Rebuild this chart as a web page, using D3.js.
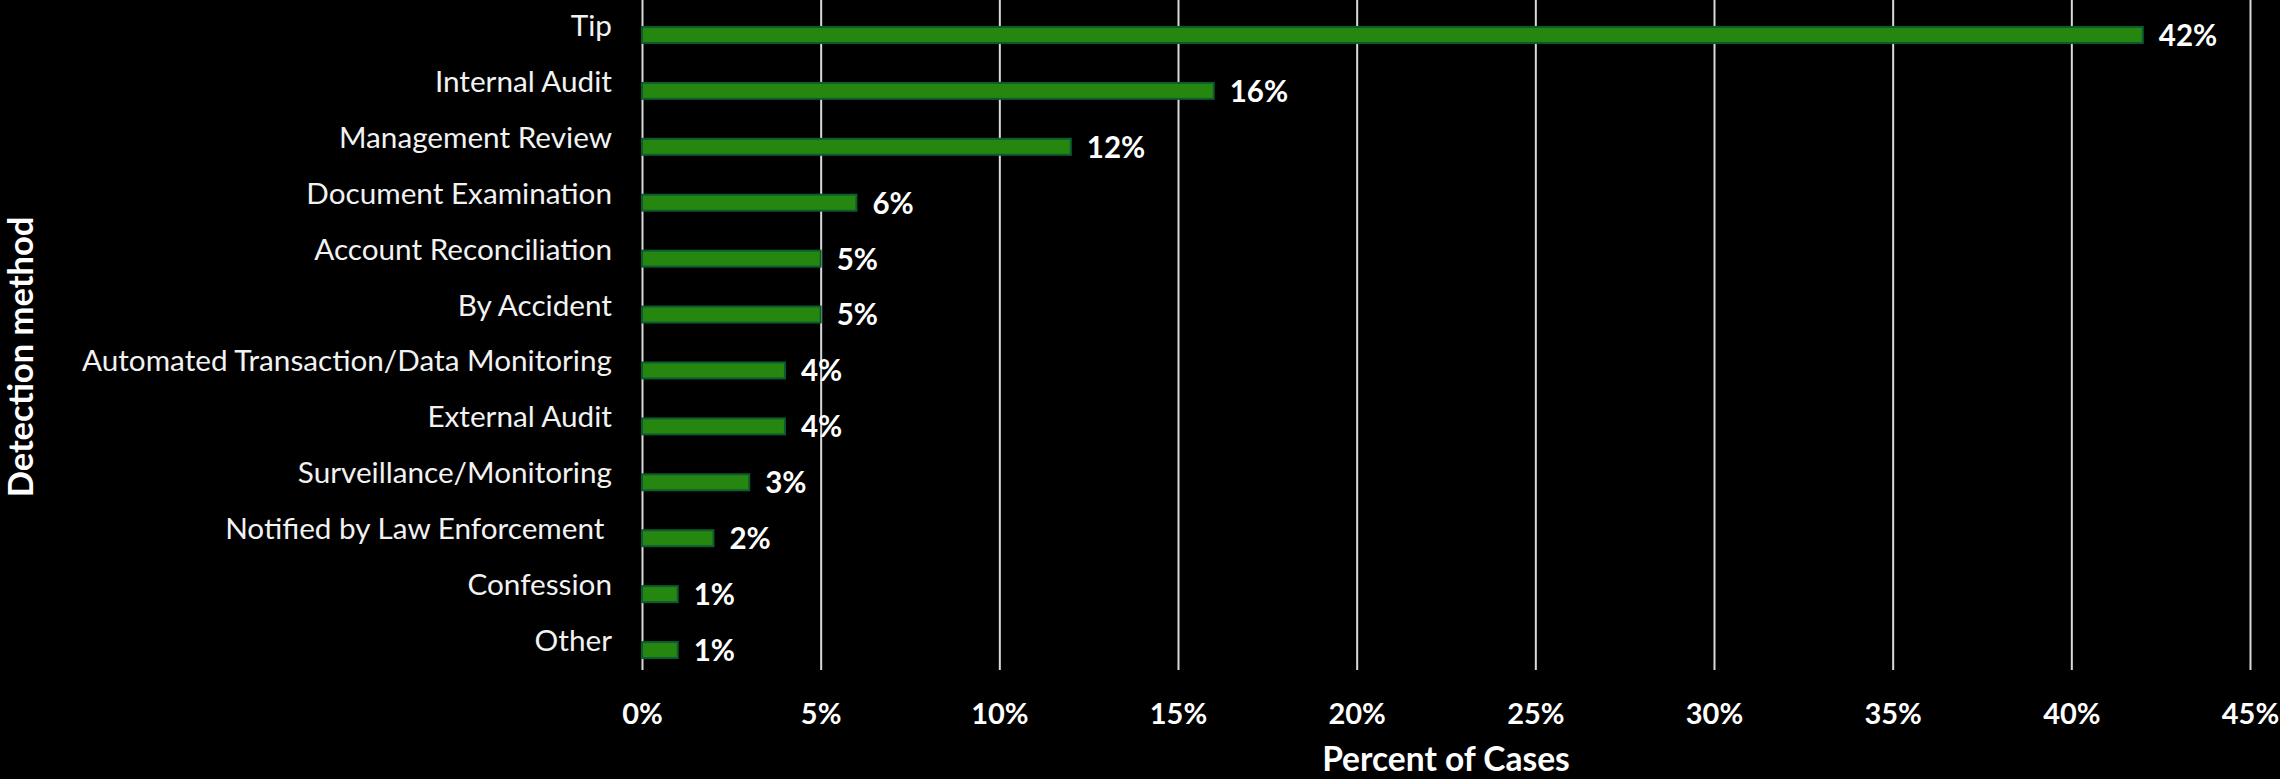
<!DOCTYPE html>
<html>
<head>
<meta charset="utf-8">
<script src="https://cdn.jsdelivr.net/npm/d3@7"></script>
<style>
  html, body { margin: 0; padding: 0; background: #000; }
  svg { display: block; }
  text { white-space: pre; }
</style>
</head>
<body>
<svg id="chart" width="2280" height="779"></svg>
<script>
// Detection methods and share of cases (percent)
const methods = [
  "Tip",
  "Internal Audit",
  "Management Review",
  "Document Examination",
  "Account Reconciliation",
  "By Accident",
  "Automated Transaction/Data Monitoring",
  "External Audit",
  "Surveillance/Monitoring",
  "Notified by Law Enforcement ",
  "Confession",
  "Other"
];
const shares = [42, 16, 12, 6, 5, 5, 4, 4, 3, 2, 1, 1];
const xTicks = [0, 5, 10, 15, 20, 25, 30, 35, 40, 45];
const xTitle = "Percent of Cases";
const yTitle = "Detection method";

const rows = methods.map((m, i) => ({ method: m, share: shares[i] }));

const svg = d3.select("#chart");
const FONT = "Lato, 'Open Sans', sans-serif";

const plot = { left: 642, right: 2250, top: 0, bottom: 670 };

const x = d3.scaleLinear().domain([0, 45]).range([plot.left, plot.right]);
const y = d3.scaleBand()
  .domain(methods)
  .range([7, 678])
  .paddingInner(0.714)
  .paddingOuter(0.357);

// vertical gridlines + tick labels
const xAxis = d3.axisBottom(x)
  .tickValues(xTicks)
  .tickSize(-(plot.bottom - plot.top))
  .tickPadding(33)
  .tickFormat(d => d + "%");

const gx = svg.append("g")
  .attr("transform", `translate(0,${plot.bottom})`)
  .call(xAxis);
gx.select(".domain").remove();
gx.selectAll(".tick line")
  .attr("stroke", "#d9d9d9")
  .attr("stroke-width", 2);
gx.selectAll(".tick text")
  .attr("fill", "#ffffff")
  .attr("font-family", FONT)
  .attr("font-weight", "bold")
  .attr("font-size", 29);

// category labels
const yAxis = d3.axisLeft(y).tickSize(0).tickPadding(30);
const gy = svg.append("g")
  .attr("transform", `translate(${plot.left},0)`)
  .call(yAxis);
gy.select(".domain").remove();
gy.selectAll(".tick text")
  .attr("fill", "#f2f2f2")
  .attr("font-family", FONT)
  .attr("font-size", 29.7)
  .attr("dy", null)
  .attr("y", 1);

// bars
svg.append("g")
  .selectAll("rect")
  .data(rows)
  .join("rect")
  .attr("x", x(0))
  .attr("y", d => y(d.method))
  .attr("width", d => x(d.share) - x(0))
  .attr("height", y.bandwidth())
  .attr("fill", "#25870f")
  .attr("stroke", "#0d5b31")
  .attr("stroke-width", 2);

// value labels
svg.append("g")
  .selectAll("text")
  .data(rows)
  .join("text")
  .attr("x", d => x(d.share) + 16)
  .attr("y", d => y(d.method) + y.bandwidth() / 2)
  .attr("dy", "0.37em")
  .attr("fill", "#ffffff")
  .attr("font-family", FONT)
  .attr("font-weight", "bold")
  .attr("font-size", 29.5)
  .text(d => d.share + "%");

// axis titles
svg.append("text")
  .attr("x", (plot.left + plot.right) / 2)
  .attr("y", 771)
  .attr("text-anchor", "middle")
  .attr("fill", "#ffffff")
  .attr("font-family", FONT)
  .attr("font-weight", "bold")
  .attr("font-size", 33.5)
  .text(xTitle);

svg.append("text")
  .attr("transform", "translate(33,357) rotate(-90)")
  .attr("text-anchor", "middle")
  .attr("fill", "#ffffff")
  .attr("font-family", FONT)
  .attr("font-weight", "bold")
  .attr("font-size", 34.5)
  .text(yTitle);
</script>
</body>
</html>
